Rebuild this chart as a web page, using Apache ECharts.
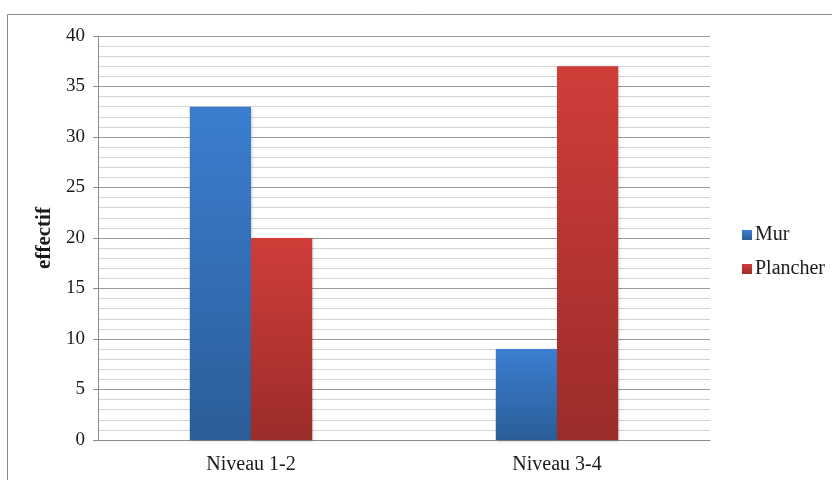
<!DOCTYPE html>
<html><head><meta charset="utf-8">
<script src="https://cdn.jsdelivr.net/npm/echarts@6/dist/echarts.min.js"></script>
<style>html,body{margin:0;padding:0;background:#fff}#c{width:832px;height:480px}</style>
</head><body><div id="c"></div>
<script>
const categories = ['Niveau 1-2', 'Niveau 3-4'];
const murValues = [33, 9];
const plancherValues = [20, 37];
const yTicks = [0, 5, 10, 15, 20, 25, 30, 35, 40];

const chart = echarts.init(document.getElementById('c'));
const font = '"Liberation Serif", "Times New Roman", serif';
function grad(top, bottom) {
  return new echarts.graphic.LinearGradient(0, 0, 0, 1, [
    {offset: 0, color: top}, {offset: 1, color: bottom}
  ]);
}
chart.setOption({
  animation: false,
  backgroundColor: '#fff',
  graphic: [{
    type: 'rect', shape: {x: 7.5, y: 14.5, width: 900, height: 600},
    style: {fill: 'none', stroke: '#8a8a8a', lineWidth: 1}, silent: true, z: -1
  }],
  grid: {left: 98, right: 122, top: 36, bottom: 40},
  legend: {
    orient: 'vertical', left: 737, top: 220, itemWidth: 10, itemHeight: 10, itemGap: 14,
    icon: 'rect',
    textStyle: {fontFamily: font, fontSize: 20, color: '#1a1a1a', padding: [0, 0, 0, -2]},
    data: ['Mur', 'Plancher']
  },
  xAxis: {
    type: 'category', data: categories,
    axisLine: {lineStyle: {color: '#8c8c8c'}},
    axisTick: {show: false},
    axisLabel: {fontFamily: font, fontSize: 20, color: '#1a1a1a', margin: 15}
  },
  yAxis: {
    type: 'value', min: yTicks[0], max: yTicks[yTicks.length - 1], interval: 5,
    name: 'effectif', nameLocation: 'middle', nameGap: 43, nameRotate: 90,
    nameTextStyle: {fontFamily: font, fontSize: 21, fontWeight: 'bold', color: '#1a1a1a'},
    axisLine: {show: true, lineStyle: {color: '#8c8c8c'}},
    axisTick: {show: true, length: 5, lineStyle: {color: '#8c8c8c'}},
    axisLabel: {fontFamily: font, fontSize: 19, color: '#1a1a1a', margin: 13},
    splitLine: {lineStyle: {color: '#9a9a9a'}},
    minorTick: {show: false, splitNumber: 5},
    minorSplitLine: {show: true, lineStyle: {color: '#d4d4d4'}}
  },
  series: [{
    name: 'Mur', type: 'bar', data: murValues, barWidth: '20%', barGap: '0%',
    itemStyle: {color: grad('#3b7ed0', '#2b5d98'), shadowBlur: 3, shadowColor: 'rgba(0,0,0,0.25)', shadowOffsetX: 1, shadowOffsetY: 1}
  }, {
    name: 'Plancher', type: 'bar', data: plancherValues, barWidth: '20%',
    itemStyle: {color: grad('#d03d39', '#9b2c2a'), shadowBlur: 3, shadowColor: 'rgba(0,0,0,0.25)', shadowOffsetX: 1, shadowOffsetY: 1}
  }]
});
</script></body></html>
